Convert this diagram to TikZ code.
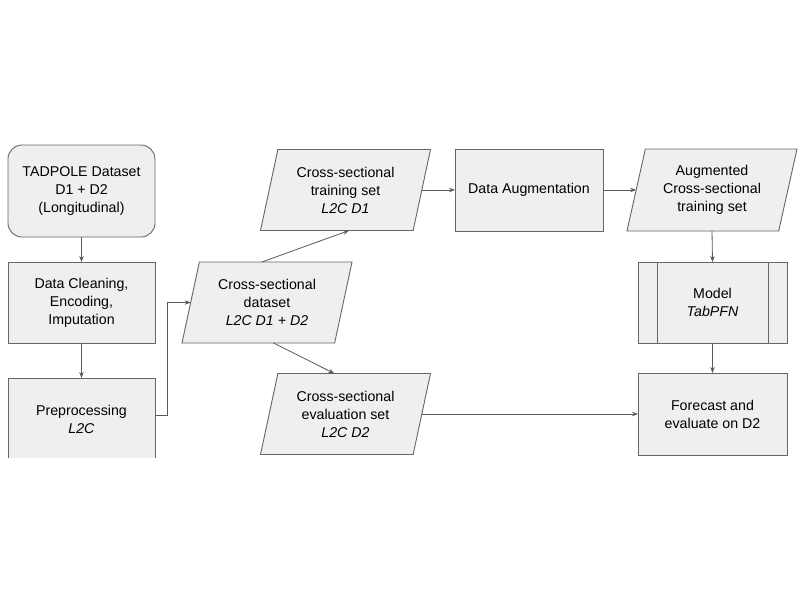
\documentclass[tikz,border=0pt]{standalone}
\usepackage{fontspec}
\setmainfont{Liberation Sans}
\usetikzlibrary{shapes.geometric,arrows.meta,calc,backgrounds}
\definecolor{boxfill}{HTML}{EFEFEF}
\definecolor{boxline}{HTML}{666666}
\definecolor{arrline}{HTML}{5A5A5A}
\begin{document}
\begin{tikzpicture}[x=1pt,y=-1pt,
  every node/.style={font=\fontsize{14.2}{18}\selectfont, align=center, outer sep=0pt, inner sep=2pt},
  procbox/.style={draw=boxline, fill=boxfill, line width=0.9pt, minimum width=147, minimum height=81},
  openbox/.style={minimum width=147, minimum height=82},
  databox/.style={trapezium, trapezium left angle=71, trapezium right angle=109, trapezium stretches body,
     draw=boxline, fill=boxfill, line width=0.9pt, minimum width=170, minimum height=81},
  border/.style={draw=boxline, line width=0.9pt},
  conn/.style={draw=arrline, line width=0.8pt, -{Stealth[length=6pt,width=4.5pt]}}
]
\useasboundingbox (0,0) rectangle (800,600);

% left column
\node[procbox, rounded corners=14pt, minimum height=92] (tad) at (81.5,191) {TADPOLE Dataset\\D1 + D2\\(Longitudinal)};
\node[procbox] (clean) at (81.5,302.5) {Data Cleaning,\\Encoding,\\Imputation};
\node[openbox] (pre) at (81.5,419) {Preprocessing\\\textit{L2C}};
\begin{scope}[on background layer]
\fill[white] (0,0) rectangle (800,600);
\fill[boxfill] (pre.north west) rectangle (pre.east |- 0,458);
\end{scope}
\draw[border] (pre.west |- 0,458) -- (pre.north west) -- (pre.north east) -- (pre.east |- 0,458);

% middle column
\node[databox] (ds) at (267,302.5) {Cross-sectional\\dataset\\\textit{L2C D1 + D2}};
\node[databox] (train) at (345.5,190) {Cross-sectional\\training set\\\textit{L2C D1}};
\node[databox] (eval) at (345.5,414) {Cross-sectional\\evaluation set\\\textit{L2C D2}};

% right part
\node[procbox, minimum width=148, minimum height=82] (aug) at (529,190) {Data Augmentation};
\node[databox, minimum height=82] (augtr) at (712,190) {Augmented\\Cross-sectional\\training set};
\node[procbox, minimum width=149] (model) at (712.5,302.5) {Model\\\textit{TabPFN}};
\draw[border] ([xshift=19pt]model.north west) -- ([xshift=19pt]model.south west);
\draw[border] ([xshift=-19pt]model.north east) -- ([xshift=-19pt]model.south east);
\node[procbox, minimum width=149, minimum height=82] (fc) at (712.5,414) {Forecast and\\evaluate on D2};

% connectors
\draw[conn] (tad) -- (clean);
\draw[conn] (clean) -- (pre);
\draw[conn] ($(pre.east)+(0,-4)$) -- ++(12,0) |- (ds.left side);
\draw[conn] ($(ds.top left corner)!0.41!(ds.top right corner)$) -- ($(train.bottom left corner)!0.58!(train.bottom right corner)$);
\draw[conn] ($(ds.bottom left corner)!0.6!(ds.bottom right corner)$) -- ($(eval.top left corner)!0.37!(eval.top right corner)$);
\draw[conn] (train.right side) -- (aug.west);
\draw[conn] (aug.east) -- (augtr.left side);
\draw[conn] (augtr.south) -- (model.north);
\draw[conn] (model.south) -- (fc.north);
\draw[conn] (eval.right side) -- (fc.west);
\end{tikzpicture}
\end{document}
